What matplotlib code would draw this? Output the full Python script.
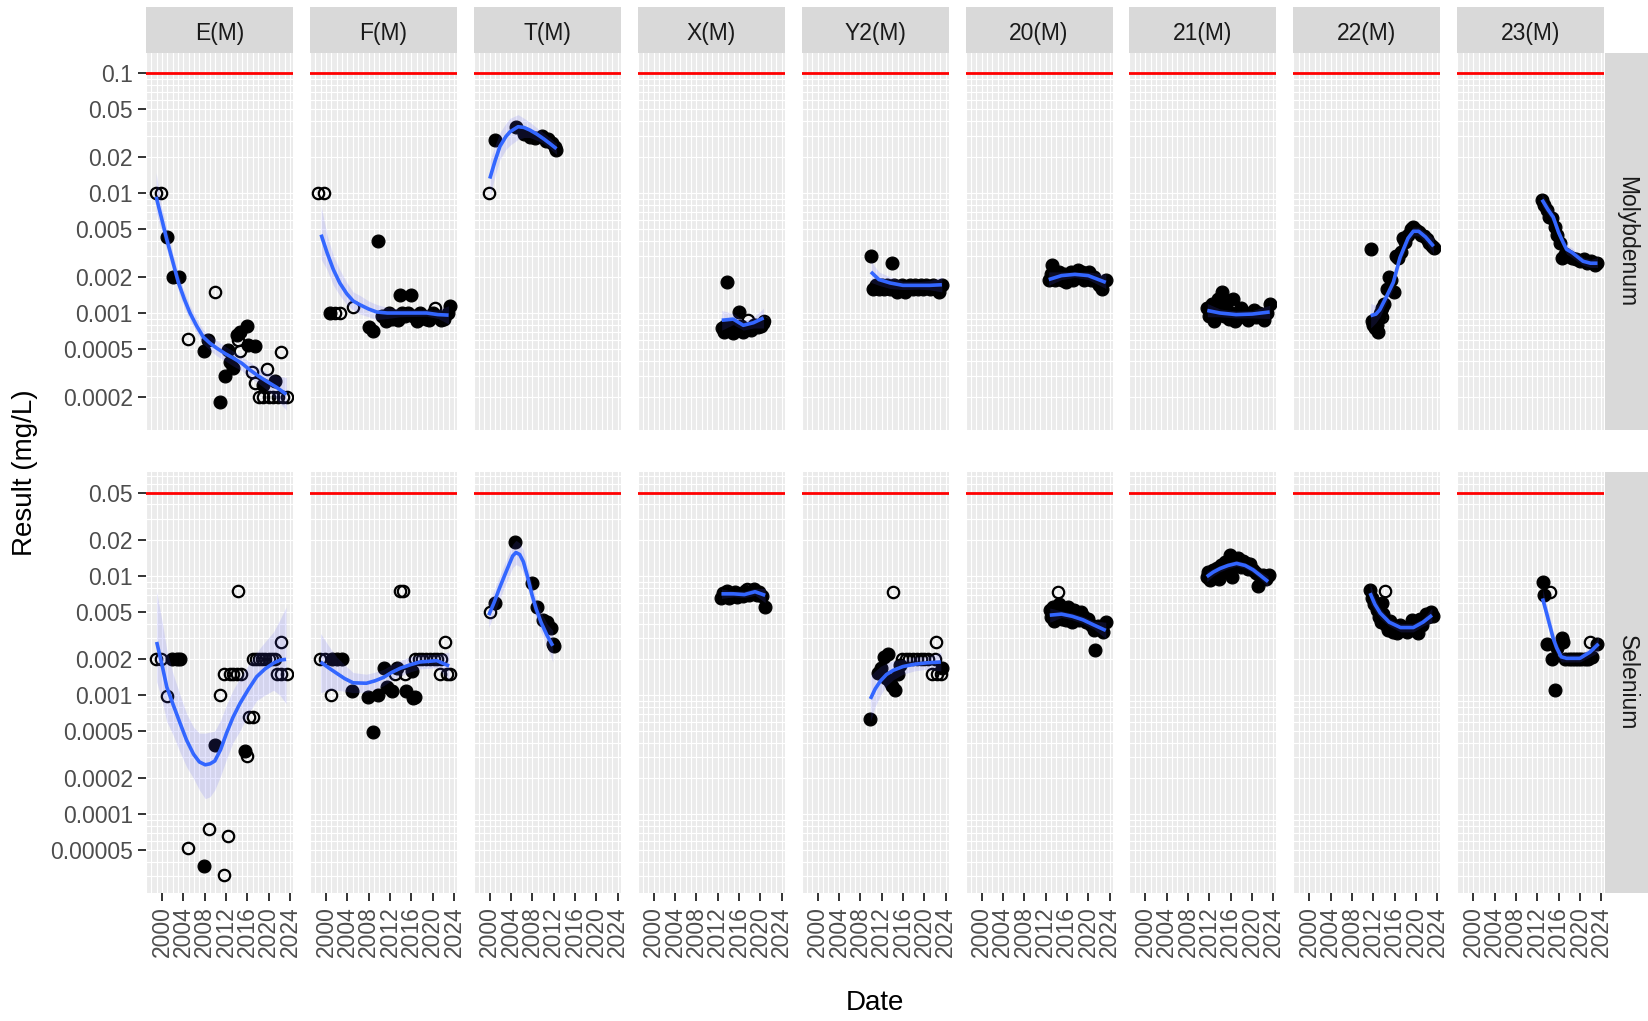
import numpy as np
import matplotlib
matplotlib.use("Agg")
import matplotlib.pyplot as plt

plt.rcParams['font.family'] = ['Liberation Sans', 'DejaVu Sans']

sites = ["E(M)", "F(M)", "T(M)", "X(M)", "Y2(M)", "20(M)", "21(M)", "22(M)", "23(M)"]
metals = ["Molybdenum", "Selenium"]
guideline = {"Molybdenum": 0.1, "Selenium": 0.05}

year_ticks = [2000, 2004, 2008, 2012, 2016, 2020, 2024]
mo_ticks = [0.0002, 0.0005, 0.001, 0.002, 0.005, 0.01, 0.02, 0.05, 0.1]
mo_labels = ["0.0002", "0.0005", "0.001", "0.002", "0.005", "0.01", "0.02", "0.05", "0.1"]
se_ticks = [0.00005, 0.0001, 0.0002, 0.0005, 0.001, 0.002, 0.005, 0.01, 0.02, 0.05]
se_labels = ["0.00005", "0.0001", "0.0002", "0.0005", "0.001", "0.002", "0.005", "0.01", "0.02", "0.05"]

# ---- Molybdenum: detected results (year, mg/L)
mo_detected = {
    "E(M)": [(2000.9, 0.0043), (2002.0, 0.002), (2003.1, 0.002), (2007.9, 0.00048), (2008.7, 0.0006),
             (2010.9, 0.00018), (2011.8, 0.0003), (2012.4, 0.00049), (2012.75, 0.00039), (2013.4, 0.00035),
             (2014.0, 0.00066), (2014.6, 0.0007), (2015.9, 0.00078), (2016.2, 0.00054), (2017.4, 0.00053),
             (2019.0, 0.00025), (2021.2, 0.00027)],
    "F(M)": [(2000.8, 0.001), (2008.0, 0.00077), (2008.9, 0.00071), (2009.8, 0.004), (2010.6, 0.00095),
             (2011.2, 0.00085), (2011.8, 0.001), (2012.4, 0.0009), (2013.0, 0.00095), (2013.6, 0.00088),
             (2013.9, 0.0014), (2014.3, 0.001), (2014.8, 0.00095), (2015.3, 0.001), (2015.9, 0.0014),
             (2016.4, 0.00095), (2017.0, 0.00085), (2017.6, 0.001), (2018.2, 0.00095), (2018.8, 0.0009),
             (2019.4, 0.00088), (2020.0, 0.001), (2020.9, 0.00095), (2021.5, 0.00088), (2022.2, 0.0009),
             (2022.8, 0.001), (2023.3, 0.00114)],
    "T(M)": [(2001.0, 0.0277), (2005.0, 0.0357), (2006.5, 0.031), (2007.5, 0.0295), (2008.5, 0.0285),
             (2009.7, 0.030), (2010.6, 0.027), (2011.0, 0.028), (2011.6, 0.026), (2012.3, 0.024),
             (2012.5, 0.023)],
    "X(M)": [(2012.8, 0.00075), (2013.1, 0.0007), (2013.4, 0.00078), (2013.8, 0.0018), (2014.0, 0.00072),
             (2014.4, 0.0008), (2014.9, 0.00068), (2015.4, 0.00075), (2015.9, 0.00101), (2016.3, 0.00078),
             (2016.8, 0.0007), (2017.3, 0.00074), (2018.2, 0.00072), (2018.8, 0.0008), (2019.5, 0.00076),
             (2020.1, 0.00078), (2020.5, 0.00082)],
    "Y2(M)": [(2010.0, 0.003), (2013.9, 0.0026), (2010.4, 0.0016), (2011.0, 0.0017), (2011.5, 0.0016),
              (2012.0, 0.0017), (2012.5, 0.0016), (2013.0, 0.0017), (2013.5, 0.0016), (2014.3, 0.0017),
              (2014.8, 0.0015), (2015.3, 0.0016), (2015.8, 0.0017), (2016.3, 0.0015), (2016.8, 0.0016),
              (2017.3, 0.0017), (2017.8, 0.0016), (2018.3, 0.0017), (2018.8, 0.0016), (2019.3, 0.0017),
              (2019.8, 0.0016), (2020.3, 0.0017), (2021.0, 0.0016), (2021.6, 0.0017), (2022.2, 0.0016),
              (2022.8, 0.0015), (2023.3, 0.0017)],
    "20(M)": [(2012.6, 0.0019), (2013.0, 0.0021), (2013.3, 0.0025), (2013.7, 0.0019), (2014.1, 0.002),
              (2014.5, 0.0022), (2015.0, 0.0019), (2015.4, 0.0021), (2015.8, 0.0018), (2016.2, 0.002),
              (2016.7, 0.0022), (2017.1, 0.0019), (2017.5, 0.0021), (2018.0, 0.0023), (2018.4, 0.002),
              (2018.8, 0.0022), (2019.3, 0.0019), (2019.7, 0.0021), (2020.2, 0.0022), (2020.6, 0.0019),
              (2021.1, 0.002), (2021.6, 0.0018), (2022.1, 0.0017), (2022.6, 0.0016), (2023.3, 0.0019)],
    "21(M)": [(2011.6, 0.0011), (2012.0, 0.00095), (2012.4, 0.0012), (2012.8, 0.00085), (2013.2, 0.001),
              (2013.6, 0.0013), (2014.0, 0.0011), (2014.4, 0.0015), (2014.8, 0.00095), (2015.2, 0.0012),
              (2015.6, 0.0009), (2016.0, 0.001), (2016.4, 0.0013), (2016.8, 0.00085), (2017.2, 0.001),
              (2017.6, 0.00092), (2018.0, 0.0011), (2018.4, 0.00095), (2018.8, 0.001), (2019.3, 0.00088),
              (2019.8, 0.001), (2020.3, 0.00105), (2020.8, 0.00092), (2021.3, 0.001), (2021.8, 0.00095),
              (2022.3, 0.00088), (2022.8, 0.001), (2023.3, 0.0012)],
    "22(M)": [(2011.5, 0.0034), (2011.7, 0.00085), (2012.0, 0.0008), (2012.3, 0.00075), (2012.6, 0.0008),
              (2012.9, 0.0007), (2013.2, 0.00095), (2013.6, 0.0011), (2014.0, 0.0012), (2014.5, 0.0016),
              (2014.9, 0.002), (2015.3, 0.0019), (2015.8, 0.0015), (2016.3, 0.003), (2016.7, 0.0029),
              (2017.1, 0.0032), (2017.6, 0.0042), (2018.0, 0.0039), (2018.5, 0.0045), (2019.0, 0.005),
              (2019.5, 0.0052), (2020.0, 0.0049), (2020.5, 0.0047), (2021.0, 0.0045), (2021.5, 0.0044),
              (2022.0, 0.0041), (2022.5, 0.0038), (2023.0, 0.0036), (2023.3, 0.0035)],
    "23(M)": [(2012.9, 0.0087), (2013.3, 0.0080), (2013.8, 0.0072), (2014.3, 0.0063), (2014.8, 0.0062),
              (2015.3, 0.0052), (2015.8, 0.0045), (2016.3, 0.0038), (2016.6, 0.0029), (2017.2, 0.0031),
              (2017.8, 0.0030), (2018.5, 0.0029), (2019.2, 0.0028), (2020.0, 0.0027), (2020.7, 0.0028),
              (2021.4, 0.0026), (2022.1, 0.0027), (2022.8, 0.0025), (2023.3, 0.0026)],
}

# ---- Molybdenum: below detection (plotted at the reporting limit)
mo_nondetect = {
    "E(M)": [(1998.9, 0.01), (1999.9, 0.01), (2004.9, 0.00061), (2009.9, 0.0015), (2014.3, 0.0006),
             (2014.6, 0.00048), (2016.8, 0.00032), (2017.4, 0.00026), (2019.6, 0.00034), (2022.3, 0.00047),
             (2018.1, 0.0002), (2019.0, 0.0002), (2020.0, 0.0002), (2020.9, 0.0002), (2021.8, 0.0002),
             (2022.7, 0.0002), (2023.4, 0.0002)],
    "F(M)": [(1998.6, 0.01), (1999.6, 0.01), (2001.7, 0.001), (2002.6, 0.001), (2005.0, 0.00112),
             (2020.5, 0.0011)],
    "T(M)": [(1999.9, 0.01)],
    "X(M)": [(2013.6, 0.00072), (2017.7, 0.00087), (2019.2, 0.0008), (2020.6, 0.00086)],
    "Y2(M)": [],
    "20(M)": [(2020.4, 0.0021)],
    "21(M)": [],
    "22(M)": [(2013.3, 0.001), (2013.7, 0.00092)],
    "23(M)": [],
}

# ---- Molybdenum: loess trend (year, fit, lower, upper)
mo_smooth = {
    "E(M)": [(1998.9, 0.0093, 0.0068, 0.0148), (1999.9, 0.0062, 0.0049, 0.0078), (2000.9, 0.0041, 0.0033, 0.0051),
             (2002.0, 0.0027, 0.0023, 0.0032), (2003.1, 0.00178, 0.0015, 0.0021), (2004.2, 0.0013, 0.0011, 0.0015),
             (2005.25, 0.001, 0.00087, 0.00115), (2006.5, 0.00078, 0.00068, 0.0009), (2007.75, 0.00063, 0.00055, 0.00072),
             (2009.0, 0.00056, 0.00049, 0.00065), (2010.25, 0.00051, 0.00044, 0.00059), (2011.8, 0.00046, 0.0004, 0.00053),
             (2013.4, 0.00042, 0.00036, 0.00048), (2015.0, 0.00038, 0.00033, 0.00043), (2016.5, 0.000335, 0.00029, 0.00039),
             (2018.0, 0.0003, 0.00026, 0.00035), (2019.6, 0.00027, 0.00023, 0.00032), (2021.5, 0.00024, 0.00019, 0.0003),
             (2023.3, 0.00021, 0.000155, 0.00029)],
    "F(M)": [(1999.1, 0.0045, 0.0028, 0.0078), (2000.2, 0.0032, 0.0023, 0.0045), (2001.4, 0.0023, 0.0017, 0.003),
             (2002.6, 0.00178, 0.0014, 0.0023), (2003.9, 0.00145, 0.00118, 0.0018), (2005.1, 0.00126, 0.00106, 0.0015),
             (2006.4, 0.00117, 0.00098, 0.0014), (2008.0, 0.00108, 0.00093, 0.00126), (2009.5, 0.00102, 0.00088, 0.00118),
             (2011.5, 0.001, 0.0009, 0.00111), (2013.9, 0.001, 0.00093, 0.00108), (2018.9, 0.001, 0.00094, 0.00107),
             (2021.0, 0.00097, 0.0009, 0.00106), (2023.0, 0.00096, 0.00081, 0.00115)],
    "T(M)": [(2000.0, 0.0132, 0.0093, 0.0186), (2001.0, 0.0186, 0.014, 0.025), (2001.9, 0.0245, 0.019, 0.032),
             (2003.0, 0.0295, 0.023, 0.038), (2003.8, 0.0324, 0.025, 0.042), (2005.3, 0.0357, 0.028, 0.045),
             (2006.4, 0.0352, 0.029, 0.042), (2007.5, 0.0335, 0.029, 0.039), (2008.8, 0.031, 0.0275, 0.035),
             (2010.0, 0.0285, 0.026, 0.032), (2011.2, 0.026, 0.0235, 0.029), (2012.5, 0.0234, 0.021, 0.026)],
    "X(M)": [(2012.75, 0.00087, 0.00072, 0.00105), (2014.9, 0.00089, 0.0008, 0.00099), (2016.8, 0.00079, 0.00072, 0.00087),
             (2018.7, 0.00083, 0.00075, 0.00092), (2020.6, 0.00091, 0.00075, 0.0011)],
    "Y2(M)": [(2010.0, 0.0022, 0.0018, 0.0027), (2011.5, 0.0019, 0.0017, 0.0022), (2013.6, 0.00178, 0.0016, 0.002),
              (2016.0, 0.0017, 0.00157, 0.00184), (2019.0, 0.0017, 0.00158, 0.00183), (2021.0, 0.0017, 0.00156, 0.00186),
              (2023.3, 0.00172, 0.0015, 0.002)],
    "20(M)": [(2012.6, 0.0019, 0.0017, 0.0022), (2015.0, 0.00205, 0.0019, 0.0022), (2017.5, 0.0021, 0.00198, 0.0022),
              (2020.0, 0.00205, 0.0019, 0.0022), (2023.3, 0.0018, 0.0016, 0.0021)],
    "21(M)": [(2011.6, 0.00105, 0.00093, 0.0012), (2014.0, 0.001, 0.00093, 0.00108), (2017.0, 0.00097, 0.00091, 0.00104),
              (2020.0, 0.00098, 0.00091, 0.00105), (2023.3, 0.00102, 0.0009, 0.00116)],
    "22(M)": [(2011.5, 0.00095, 0.00075, 0.0012), (2012.5, 0.00098, 0.00083, 0.00116), (2013.2, 0.00106, 0.00092, 0.00122),
              (2014.4, 0.00135, 0.0012, 0.00152), (2015.75, 0.0018, 0.0016, 0.002), (2017.0, 0.0029, 0.0026, 0.0032),
              (2018.5, 0.0042, 0.0038, 0.0046), (2019.5, 0.0048, 0.0044, 0.0052), (2020.5, 0.0048, 0.0044, 0.0052),
              (2021.8, 0.0043, 0.0039, 0.0047), (2023.3, 0.0036, 0.0031, 0.0042)],
    "23(M)": [(2012.9, 0.0088, 0.0078, 0.0099), (2014.0, 0.0073, 0.0066, 0.0081), (2015.0, 0.0063, 0.0057, 0.007),
              (2016.0, 0.0047, 0.0043, 0.0052), (2016.6, 0.0041, 0.0037, 0.0045), (2017.5, 0.0034, 0.0031, 0.0037),
              (2018.5, 0.0032, 0.0029, 0.0035), (2020.6, 0.0027, 0.0025, 0.0029), (2022.0, 0.0026, 0.0024, 0.0028),
              (2023.3, 0.0026, 0.0024, 0.0029)],
}

# ---- Selenium: detected results (year, mg/L)
se_detected = {
    "E(M)": [(2001.8, 0.002), (2002.8, 0.002), (2003.4, 0.002), (2007.9, 0.0000366), (2009.9, 0.00038),
             (2015.6, 0.00034)],
    "F(M)": [(2001.1, 0.002), (2002.0, 0.002), (2003.0, 0.002), (2004.8, 0.00109), (2007.8, 0.00096),
             (2008.9, 0.00049), (2009.8, 0.001), (2010.9, 0.0017), (2011.4, 0.00118), (2012.3, 0.00109),
             (2013.3, 0.0017), (2015.1, 0.00109), (2016.1, 0.0016), (2016.3, 0.00094), (2016.7, 0.00097)],
    "T(M)": [(2001.0, 0.0059), (2004.8, 0.0193), (2007.85, 0.0087), (2008.8, 0.0055), (2010.0, 0.0043),
             (2010.7, 0.0041), (2011.4, 0.0037), (2011.8, 0.0027), (2012.0, 0.0026)],
    "X(M)": [(2012.7, 0.0065), (2013.0, 0.0072), (2013.4, 0.0068), (2013.8, 0.0075), (2014.2, 0.0066),
             (2014.7, 0.007), (2015.2, 0.0073), (2015.7, 0.0067), (2016.2, 0.0071), (2016.7, 0.0068),
             (2017.2, 0.0075), (2017.8, 0.0069), (2018.3, 0.0072), (2018.8, 0.0078), (2019.3, 0.007),
             (2019.8, 0.0074), (2020.3, 0.0068), (2020.9, 0.0055)],
    "Y2(M)": [(2009.9, 0.00063), (2011.4, 0.00155), (2011.9, 0.0017), (2012.4, 0.0021), (2012.8, 0.0014),
              (2013.25, 0.0022), (2013.6, 0.0013), (2014.0, 0.0012), (2014.5, 0.0011), (2015.0, 0.0015),
              (2015.4, 0.0018), (2023.3, 0.0017)],
    "20(M)": [(2012.8, 0.0052), (2013.1, 0.0045), (2013.35, 0.0055), (2013.6, 0.0042), (2014.0, 0.0047),
              (2014.6, 0.0058), (2015.0, 0.0044), (2015.4, 0.005), (2015.8, 0.0043), (2016.2, 0.0055),
              (2016.6, 0.0046), (2017.0, 0.0041), (2017.4, 0.0052), (2017.8, 0.0047), (2018.2, 0.0043),
              (2018.6, 0.005), (2019.0, 0.0046), (2019.5, 0.0041), (2020.0, 0.0044), (2020.5, 0.0039),
              (2021.0, 0.0035), (2021.3, 0.0024), (2021.8, 0.0038), (2022.3, 0.0036), (2022.8, 0.0034),
              (2023.3, 0.0041)],
    "21(M)": [(2011.5, 0.0099), (2011.8, 0.0108), (2012.2, 0.0093), (2012.6, 0.0112), (2013.0, 0.0102),
              (2013.4, 0.0118), (2013.8, 0.0095), (2014.2, 0.0125), (2014.6, 0.0108), (2015.0, 0.0132),
              (2015.5, 0.0115), (2015.9, 0.0152), (2016.2, 0.0099), (2016.6, 0.0138), (2017.0, 0.0125),
              (2017.4, 0.0142), (2017.9, 0.012), (2018.3, 0.0135), (2018.8, 0.0128), (2019.2, 0.0115),
              (2019.7, 0.0126), (2020.2, 0.0112), (2020.7, 0.0106), (2021.2, 0.0082), (2021.6, 0.0095),
              (2022.1, 0.0102), (2022.6, 0.0094), (2023.2, 0.0102)],
    "22(M)": [(2011.4, 0.0077), (2011.8, 0.0065), (2012.2, 0.0058), (2012.7, 0.0052), (2013.0, 0.0045),
              (2013.4, 0.0041), (2013.6, 0.0059), (2013.9, 0.0048), (2014.3, 0.0039), (2014.8, 0.0035),
              (2015.2, 0.0042), (2015.6, 0.0034), (2016.1, 0.0037), (2016.5, 0.0033), (2017.0, 0.0039),
              (2017.4, 0.0036), (2017.9, 0.0037), (2018.3, 0.0034), (2018.8, 0.0038), (2019.2, 0.0043),
              (2019.7, 0.0035), (2020.2, 0.0041), (2020.4, 0.0033), (2020.7, 0.0044), (2021.2, 0.0039),
              (2021.8, 0.0048), (2022.3, 0.0045), (2022.8, 0.005), (2023.2, 0.0046)],
    "23(M)": [(2013.0, 0.009), (2013.3, 0.007), (2013.8, 0.0027), (2014.7, 0.002), (2015.3, 0.0011),
              (2015.7, 0.0025), (2016.6, 0.003), (2016.9, 0.0028), (2017.3, 0.002), (2017.9, 0.002),
              (2018.5, 0.002), (2019.1, 0.002), (2019.7, 0.002), (2020.3, 0.002), (2020.9, 0.002),
              (2021.5, 0.002), (2022.2, 0.0021), (2023.15, 0.0027)],
}

# ---- Selenium: below detection
se_nondetect = {
    "E(M)": [(1998.9, 0.002), (1999.9, 0.002), (2001.0, 0.00098), (2004.9, 0.0000525), (2008.9, 0.0000746),
             (2010.9, 0.001), (2011.6, 0.000031), (2012.4, 0.000066), (2011.6, 0.0015), (2012.75, 0.0015),
             (2013.4, 0.0015), (2014.1, 0.0015), (2014.9, 0.0015), (2014.3, 0.0075), (2016.0, 0.00031),
             (2016.4, 0.00065), (2017.0, 0.00065), (2017.0, 0.002), (2017.6, 0.002), (2018.2, 0.002),
             (2018.8, 0.002), (2019.4, 0.002), (2020.0, 0.002), (2020.6, 0.002), (2021.2, 0.002),
             (2022.4, 0.0028), (2021.5, 0.0015), (2022.4, 0.0015), (2023.4, 0.0015)],
    "F(M)": [(1998.8, 0.002), (1999.8, 0.002), (2000.9, 0.001), (2013.0, 0.0015), (2014.8, 0.0015),
             (2013.9, 0.0075), (2014.4, 0.0075), (2016.7, 0.002), (2017.4, 0.002), (2018.1, 0.002),
             (2018.8, 0.002), (2019.5, 0.002), (2020.2, 0.002), (2020.9, 0.002), (2021.6, 0.002),
             (2022.3, 0.0028), (2021.4, 0.0015), (2022.65, 0.0015), (2023.3, 0.0015)],
    "T(M)": [(2000.0, 0.005)],
    "X(M)": [(2017.5, 0.0078)],
    "Y2(M)": [(2014.2, 0.0074), (2022.2, 0.0028), (2015.8, 0.002), (2016.5, 0.002), (2017.2, 0.002),
              (2017.9, 0.002), (2018.6, 0.002), (2019.3, 0.002), (2020.0, 0.002), (2020.7, 0.002),
              (2021.4, 0.0015), (2022.0, 0.002), (2022.4, 0.0015), (2023.1, 0.0015)],
    "20(M)": [(2014.3, 0.0074)],
    "21(M)": [],
    "22(M)": [(2014.2, 0.0075)],
    "23(M)": [(2014.4, 0.0074), (2021.9, 0.0028)],
}

# ---- Selenium: loess trend (year, fit, lower, upper)
se_smooth = {
    "E(M)": [(1999.0, 0.0028, 0.0013, 0.0074), (2000.0, 0.0018, 0.0009, 0.0042), (2000.9, 0.00117, 0.0006, 0.0024),
             (2002.1, 0.00083, 0.00046, 0.0015), (2003.4, 0.00058, 0.00033, 0.001), (2004.6, 0.00042, 0.00025, 0.0007),
             (2005.9, 0.00032, 0.0002, 0.00054), (2007.0, 0.000275, 0.00016, 0.00048), (2008.1, 0.00026, 0.000135, 0.00048),
             (2009.0, 0.000265, 0.00014, 0.00049), (2009.9, 0.00028, 0.00016, 0.0005), (2011.0, 0.00035, 0.00021, 0.00062),
             (2012.1, 0.00048, 0.00029, 0.00083), (2013.3, 0.00065, 0.0004, 0.0011), (2014.6, 0.00085, 0.0005, 0.0014),
             (2016.2, 0.00112, 0.0007, 0.0018), (2017.75, 0.00143, 0.0009, 0.0023), (2019.3, 0.00166, 0.001, 0.0028),
             (2020.9, 0.00186, 0.0011, 0.0034), (2022.1, 0.00197, 0.001, 0.0043), (2023.25, 0.002, 0.00085, 0.0055)],
    "F(M)": [(1999.0, 0.0019, 0.00105, 0.0033), (2000.5, 0.0017, 0.0011, 0.0026), (2002.0, 0.00153, 0.0011, 0.0021),
             (2003.5, 0.00138, 0.00108, 0.0018), (2005.1, 0.00127, 0.00105, 0.00155), (2007.6, 0.00126, 0.00106, 0.0015),
             (2009.2, 0.00132, 0.00112, 0.00156), (2010.8, 0.00141, 0.0012, 0.00165), (2012.3, 0.00155, 0.00133, 0.0018),
             (2013.9, 0.00168, 0.00145, 0.00195), (2015.8, 0.0018, 0.00157, 0.0021), (2017.6, 0.0019, 0.00166, 0.0022),
             (2020.8, 0.00195, 0.0017, 0.0022), (2023.1, 0.00176, 0.00135, 0.0023)],
    "T(M)": [(1999.8, 0.0047, 0.0037, 0.006), (2000.8, 0.006, 0.0048, 0.0076), (2001.8, 0.0079, 0.0063, 0.0099),
             (2002.8, 0.0102, 0.0082, 0.0128), (2003.8, 0.0131, 0.0105, 0.0165), (2004.3, 0.0148, 0.0118, 0.0186),
             (2004.9, 0.0158, 0.0125, 0.02), (2005.6, 0.0152, 0.0121, 0.019), (2006.3, 0.0132, 0.0106, 0.0165),
             (2007.1, 0.0098, 0.008, 0.012), (2007.9, 0.007, 0.0057, 0.0086), (2008.7, 0.0053, 0.0044, 0.0064),
             (2009.6, 0.0041, 0.0034, 0.005), (2010.7, 0.0032, 0.0026, 0.004), (2011.8, 0.0026, 0.0019, 0.0035)],
    "X(M)": [(2012.7, 0.0071, 0.0065, 0.0078), (2015.0, 0.0071, 0.0067, 0.0075), (2017.0, 0.007, 0.0066, 0.0075),
             (2019.0, 0.0074, 0.0069, 0.0079), (2020.9, 0.0069, 0.006, 0.0079)],
    "Y2(M)": [(2009.9, 0.00093, 0.0006, 0.00145), (2010.8, 0.00113, 0.0008, 0.0016), (2011.8, 0.00132, 0.001, 0.00175),
              (2012.9, 0.00149, 0.0012, 0.00185), (2014.2, 0.00162, 0.00135, 0.00195), (2016.0, 0.00174, 0.0015, 0.002),
              (2018.2, 0.00182, 0.0016, 0.0021), (2020.5, 0.00187, 0.00165, 0.0021), (2023.1, 0.0019, 0.0016, 0.0023)],
    "20(M)": [(2012.8, 0.0047, 0.0041, 0.0054), (2015.0, 0.0048, 0.0045, 0.0051), (2017.0, 0.0046, 0.0043, 0.0049),
              (2019.0, 0.0043, 0.004, 0.0046), (2021.0, 0.0039, 0.0036, 0.0042), (2023.3, 0.0035, 0.003, 0.0041)],
    "21(M)": [(2011.5, 0.0099, 0.009, 0.0109), (2012.7, 0.0108, 0.0100, 0.0116), (2014.0, 0.0116, 0.0109, 0.0123),
              (2015.5, 0.0123, 0.0116, 0.013), (2017.1, 0.0128, 0.0121, 0.0136), (2018.7, 0.0123, 0.0116, 0.013),
              (2020.2, 0.0113, 0.0106, 0.012), (2021.6, 0.0101, 0.0094, 0.0109), (2023.0, 0.009, 0.0081, 0.01)],
    "22(M)": [(2011.4, 0.0072, 0.006, 0.0086), (2012.3, 0.0058, 0.0051, 0.0066), (2013.3, 0.0049, 0.0044, 0.0054),
              (2015.0, 0.0041, 0.0038, 0.0044), (2017.1, 0.0037, 0.0034, 0.004), (2019.5, 0.0037, 0.0034, 0.004),
              (2021.3, 0.0041, 0.0038, 0.0044), (2023.0, 0.0047, 0.0041, 0.0054)],
    "23(M)": [(2013.0, 0.0065, 0.0055, 0.0078), (2013.7, 0.005, 0.0043, 0.0059),
              (2014.4, 0.0038, 0.0032, 0.0045), (2015.0, 0.003, 0.0026, 0.0035), (2015.65, 0.0025, 0.0022, 0.0028),
              (2016.5, 0.0021, 0.0019, 0.0023), (2017.5, 0.00204, 0.0019, 0.0022), (2020.0, 0.00204, 0.0019, 0.0022),
              (2021.9, 0.0023, 0.0021, 0.0025), (2023.5, 0.0027, 0.0023, 0.0031)],
}

# ---- page layout in pixels
W, H = 1648, 1021
col_left = [146 + 163.9 * i for i in range(len(sites))]
panel_w = 147
row_top = {"Molybdenum": 53, "Selenium": 472}
row_bottom = {"Molybdenum": 430, "Selenium": 893}
row_ylim = {"Molybdenum": (10 ** -3.975, 10 ** -0.833), "Selenium": (10 ** -4.662, 10 ** -1.125)}

panel_bg = "#EBEBEB"
strip_bg = "#D9D9D9"
tick_col = "#4D4D4D"
label_size = 16.5


def px_axes(fig, x0, y0, x1, y1):
    return fig.add_axes([x0 / W, 1 - y1 / H, (x1 - x0) / W, (y1 - y0) / H])


def draw_panel(ax, hits, nds, smooth, limit, ylim):
    ax.set_facecolor(panel_bg)
    for sp in ax.spines.values():
        sp.set_visible(False)
    ax.set_yscale("log")
    ax.set_xlim(1997.0, 2024.56)
    ax.set_ylim(*ylim)

    # dense white grid, one line per year and per 1..9 step of each decade
    for yr in range(1997, 2025):
        ax.axvline(yr, color="white", lw=0.8, zorder=0.5)
    for e in range(-5, 0):
        for k in range(1, 10):
            ax.axhline(k * 10.0 ** e, color="white", lw=0.8, zorder=0.5)

    ax.axhline(limit, color="#FF0000", lw=2.0, zorder=1.5)

    if hits:
        h = np.array(hits)
        ax.plot(h[:, 0], h[:, 1], "o", ms=9.3, color="black", mec="black", mew=0.8, zorder=2)
    if nds:
        n = np.array(nds)
        ax.plot(n[:, 0], n[:, 1], "o", ms=8.2, mfc="none", mec="black", mew=1.6, zorder=2.1)
    if smooth:
        s = np.array(smooth)
        ax.fill_between(s[:, 0], s[:, 2], s[:, 3], color="#5555FF", alpha=0.15, lw=0, zorder=3)
        ax.plot(s[:, 0], s[:, 1], color="#3366FF", lw=2.6, zorder=4,
                solid_capstyle="butt", solid_joinstyle="round")


def main():
    fig = plt.figure(figsize=(W / 100, H / 100), dpi=100)

    data = {
        "Molybdenum": (mo_detected, mo_nondetect, mo_smooth, mo_ticks, mo_labels),
        "Selenium": (se_detected, se_nondetect, se_smooth, se_ticks, se_labels),
    }

    for r, metal in enumerate(metals):
        hits, nds, smooth, yt, yl = data[metal]
        top, bot = row_top[metal], row_bottom[metal]
        for c, site in enumerate(sites):
            x0 = col_left[c]
            ax = px_axes(fig, x0, top, x0 + panel_w, bot)
            draw_panel(ax, hits[site], nds[site], smooth[site], guideline[metal], row_ylim[metal])

            ax.yaxis.set_minor_locator(matplotlib.ticker.NullLocator())
            ax.xaxis.set_minor_locator(matplotlib.ticker.NullLocator())
            if c == 0:
                ax.set_yticks(yt)
                ax.set_yticklabels(yl)
                ax.tick_params(axis="y", length=5.5, width=1.4, color="#333333", pad=4,
                               labelsize=label_size, labelcolor=tick_col)
            else:
                ax.set_yticks([])
            if r == len(metals) - 1:
                ax.set_xticks(year_ticks)
                ax.set_xticklabels([str(y) for y in year_ticks], rotation=90)
                ax.tick_params(axis="x", length=5.5, width=1.4, color="#333333", pad=4,
                               labelsize=label_size, labelcolor=tick_col)
            else:
                ax.set_xticks([])

            # site strip on top
            if r == 0:
                sax = px_axes(fig, x0, 7, x0 + panel_w, 53)
                sax.set_facecolor(strip_bg)
                sax.set_xticks([])
                sax.set_yticks([])
                for sp in sax.spines.values():
                    sp.set_visible(False)
                sax.text(0.5, 0.42, site, ha="center", va="center", fontsize=label_size,
                         color="#1A1A1A", transform=sax.transAxes)

        # metal strip on the right
        rax = px_axes(fig, 1605, top, 1652, bot)
        rax.set_facecolor(strip_bg)
        rax.set_xticks([])
        rax.set_yticks([])
        for sp in rax.spines.values():
            sp.set_visible(False)
        rax.text(0.47, 0.5, metal, ha="center", va="center", rotation=-90, fontsize=label_size,
                 color="#1A1A1A", transform=rax.transAxes)

    fig.text(25 / W, 1 - 473 / H, "Result (mg/L)", rotation=90, ha="center", va="center",
             fontsize=20, color="black")
    fig.text(874.5 / W, 1 - 1003 / H, "Date", ha="center", va="center", fontsize=20, color="black")

    fig.savefig("out.png", dpi=100, facecolor="white")


if __name__ == "__main__":
    main()
